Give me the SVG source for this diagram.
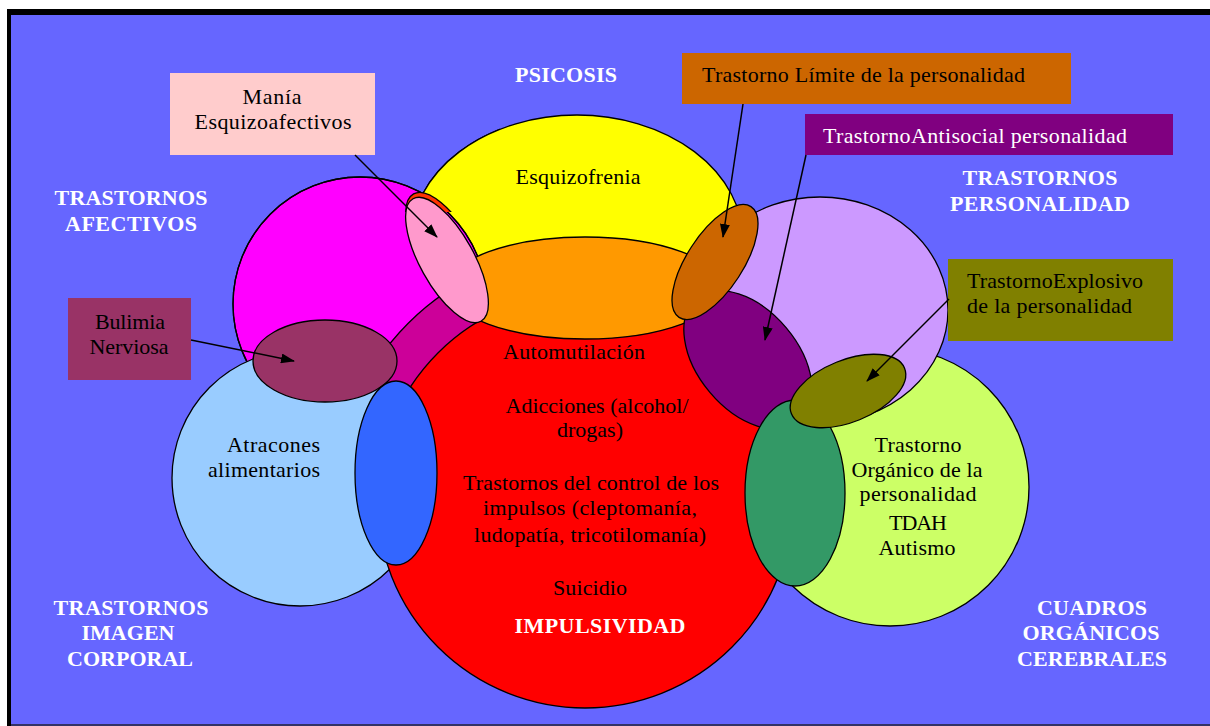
<svg xmlns="http://www.w3.org/2000/svg" width="1210" height="726" viewBox="0 0 1210 726">
  <defs>
    <style>
      .shape { stroke: #000; stroke-width: 1.3; }
      .t { font-family: "Liberation Serif", "Times New Roman", serif; font-size: 22px; fill: #000; }
      .tw { fill: #fff; }
      .lbl { font-family: "Liberation Serif", "Times New Roman", serif; font-size: 22px; font-weight: bold; fill: #fff; text-anchor: middle; }
      .mid { text-anchor: middle; }
      .end { text-anchor: end; }
      .conn { stroke: #000; stroke-width: 1.5; fill: none; marker-end: url(#arrow); }
    </style>
    <marker id="arrow" viewBox="0 0 14 10" refX="13" refY="5" markerWidth="14" markerHeight="10" markerUnits="userSpaceOnUse" orient="auto">
      <path d="M0,0 L14,5 L0,10 Z" fill="#000"/>
    </marker>
    <clipPath id="clipAfectivos">
      <circle cx="360" cy="304" r="127"/>
    </clipPath>
    <clipPath id="clipUpper">
      <rect x="380" y="100" width="120" height="112"/>
    </clipPath>
    <clipPath id="clipRim">
      <rect x="380" y="180" width="100" height="32"/>
    </clipPath>
  </defs>

  <!-- page frame -->
  <rect x="0" y="0" width="1210" height="726" fill="#fff"/>
  <rect x="7" y="9" width="1210" height="720" fill="#000"/>
  <rect x="11" y="15" width="1199" height="709" fill="#6666FF"/>
  <rect x="11" y="724" width="1199" height="2" fill="#333366"/>

  <!-- large sets -->
  <g id="psicosis">
    <ellipse class="shape" cx="577" cy="240" rx="166" ry="125" fill="#FFFF00"/>
    <text class="t mid" x="578" y="184" textLength="125">Esquizofrenia</text>
  </g>
  <g id="afectivos">
    <circle class="shape" cx="360" cy="304" r="127" fill="#FF00FF"/>
    <circle cx="585" cy="500" r="250" fill="#CC0099" stroke="#000" stroke-width="1.3" clip-path="url(#clipAfectivos)"/>
    <circle cx="360" cy="304" r="127" fill="none" stroke="#000" stroke-width="1.3"/>
  </g>
  <!-- upper edge of the psicosis set lies over the afectivos set -->
  <g id="psicosis-upper" clip-path="url(#clipUpper)">
    <ellipse class="shape" cx="577" cy="240" rx="166" ry="125" fill="#FFFF00"/>
  </g>
  <g id="imagen-corporal">
    <circle class="shape" cx="300" cy="478" r="128" fill="#99CCFF"/>
    <text class="t end" x="320" y="452" textLength="93">Atracones</text>
    <text class="t end" x="320" y="477" textLength="112">alimentarios</text>
  </g>
  <g id="organicos">
    <circle class="shape" cx="890" cy="487" r="139" fill="#CCFF66"/>
  </g>
  <g id="personalidad">
    <ellipse class="shape" cx="820" cy="310" rx="128" ry="113" fill="#CC99FF"/>
  </g>
  <g id="impulsividad">
    <circle class="shape" cx="585" cy="500" r="208" fill="#FF0000"/>
    <ellipse class="shape" cx="585" cy="288" rx="137" ry="51" fill="#FF9900"/>
    <text class="t mid" x="574" y="359" textLength="142">Automutilación</text>
    <text class="t mid" x="597" y="413" textLength="183">Adicciones (alcohol/</text>
    <text class="t mid" x="590" y="437" textLength="66">drogas)</text>
    <text class="t mid" x="591" y="490" textLength="256">Trastornos del control de los</text>
    <text class="t mid" x="590" y="515" textLength="214">impulsos (cleptomanía,</text>
    <text class="t mid" x="590" y="542" textLength="232">ludopatía, tricotilomanía)</text>
    <text class="t mid" x="590" y="595" textLength="74">Suicidio</text>
  </g>
  <g id="organico-text">
    <text class="t mid" x="918" y="452" textLength="87">Trastorno</text>
    <text class="t mid" x="917" y="477" textLength="131">Orgánico de la</text>
    <text class="t mid" x="918" y="501" textLength="117">personalidad</text>
    <text class="t mid" x="918" y="530" textLength="58">TDAH</text>
    <text class="t mid" x="917" y="555" textLength="77">Autismo</text>
  </g>

  <!-- overlap ellipses -->
  <g id="mania-overlap">
    <g clip-path="url(#clipRim)">
      <ellipse class="shape" cx="448" cy="256" rx="71" ry="28" transform="rotate(61 448 256)" fill="#FF3300"/>
    </g>
    <ellipse class="shape" cx="447" cy="260" rx="70" ry="27" transform="rotate(61 447 260)" fill="#FF99CC"/>
  </g>
  <g id="bulimia-overlap">
    <ellipse class="shape" cx="325" cy="361" rx="72" ry="41" fill="#993366"/>
  </g>
  <g id="blue-overlap">
    <ellipse class="shape" cx="396" cy="473" rx="41" ry="92" fill="#3366FF"/>
  </g>
  <g id="antisocial-overlap">
    <ellipse class="shape" cx="748" cy="360" rx="80" ry="50" transform="rotate(50 748 360)" fill="#800080"/>
  </g>
  <g id="organico-overlap">
    <ellipse class="shape" cx="795" cy="493" rx="50" ry="93" fill="#339966"/>
  </g>
  <g id="limite-overlap">
    <ellipse class="shape" cx="715" cy="262" rx="66" ry="28" transform="rotate(-57 715 262)" fill="#CC6600"/>
  </g>
  <g id="explosivo-overlap">
    <ellipse class="shape" cx="848" cy="391" rx="61" ry="31" transform="rotate(-22 848 391)" fill="#808000"/>
  </g>

  <!-- callout boxes -->
  <g id="box-mania">
    <rect x="170" y="73" width="205" height="82" fill="#FFCCCC"/>
    <text class="t mid" x="272" y="104" textLength="59">Manía</text>
    <text class="t mid" x="273" y="129" textLength="157">Esquizoafectivos</text>
  </g>
  <g id="box-limite">
    <rect x="682" y="53" width="389" height="51" fill="#CC6600"/>
    <text class="t" x="702" y="82" textLength="323">Trastorno Límite de la personalidad</text>
  </g>
  <g id="box-antisocial">
    <rect x="805" y="114" width="368" height="41" fill="#800080"/>
    <text class="t tw" x="823" y="143" textLength="304">TrastornoAntisocial personalidad</text>
  </g>
  <g id="box-explosivo">
    <rect x="948" y="259" width="225" height="82" fill="#808000"/>
    <text class="t" x="967" y="288" textLength="176">TrastornoExplosivo</text>
    <text class="t" x="967" y="313" textLength="165">de la personalidad</text>
  </g>
  <g id="box-bulimia">
    <rect x="68" y="298" width="123" height="82" fill="#993366"/>
    <text class="t mid" x="130" y="329" textLength="70">Bulimia</text>
    <text class="t mid" x="129" y="354" textLength="79">Nerviosa</text>
  </g>

  <!-- group titles -->
  <g id="title-afectivos">
    <text class="lbl" x="131" y="205" textLength="153">TRASTORNOS</text>
    <text class="lbl" x="131" y="231" textLength="132">AFECTIVOS</text>
  </g>
  <g id="title-psicosis">
    <text class="lbl" x="566" y="82" textLength="102">PSICOSIS</text>
  </g>
  <g id="title-personalidad">
    <text class="lbl" x="1040" y="185" textLength="155">TRASTORNOS</text>
    <text class="lbl" x="1040" y="211" textLength="180">PERSONALIDAD</text>
  </g>
  <g id="title-impulsividad">
    <text class="lbl" x="600" y="633" textLength="171">IMPULSIVIDAD</text>
  </g>
  <g id="title-imagen">
    <text class="lbl" x="131" y="615" textLength="155">TRASTORNOS</text>
    <text class="lbl" x="128" y="640" textLength="93">IMAGEN</text>
    <text class="lbl" x="130" y="666" textLength="126">CORPORAL</text>
  </g>
  <g id="title-organicos">
    <text class="lbl" x="1092" y="615" textLength="110">CUADROS</text>
    <text class="lbl" x="1091" y="640" textLength="137">ORGÁNICOS</text>
    <text class="lbl" x="1092" y="666" textLength="150">CEREBRALES</text>
  </g>

  <!-- connectors -->
  <g id="connectors">
    <path class="conn" d="M355,155 L437,237"/>
    <path class="conn" d="M743,104 L723,237"/>
    <path class="conn" d="M806,155 L765,340"/>
    <path class="conn" d="M949,299 L867,381"/>
    <path class="conn" d="M191,340 L294,361"/>
  </g>
</svg>
